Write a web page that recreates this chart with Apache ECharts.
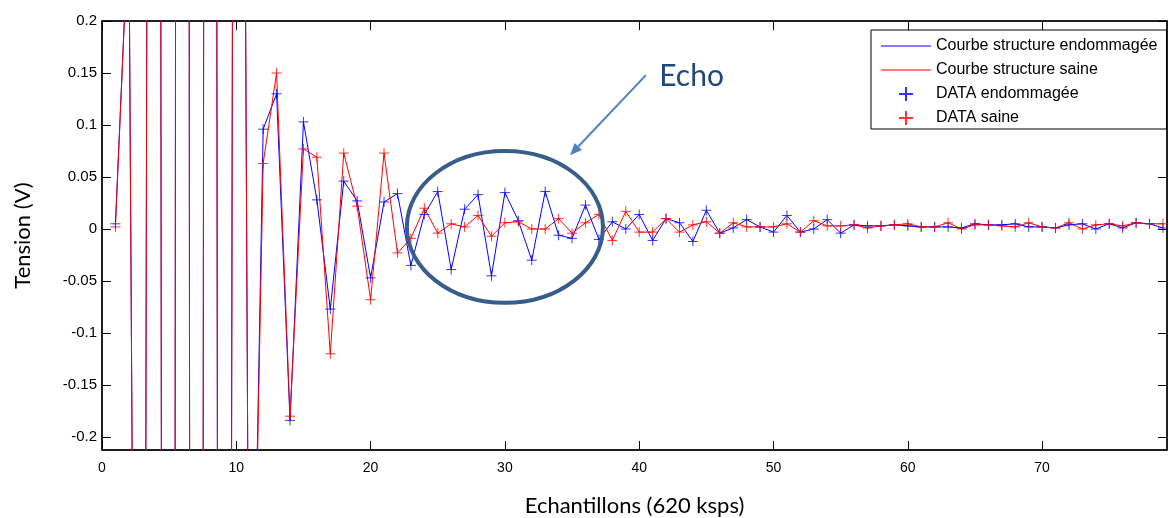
<!DOCTYPE html>
<html>
<head>
<meta charset="utf-8">
<script src="https://cdn.jsdelivr.net/npm/echarts@6/dist/echarts.min.js"></script>
<style>
  html, body { margin: 0; padding: 0; background: #fff; }
  #chart { width: 1169px; height: 518px; }
</style>
</head>
<body>
<div id="chart"></div>
<script>
// sample index (x) and measured tension (V) for both structures
const samples = [1, 2, 3, 4, 5, 6, 7, 8, 9, 10, 11, 12, 13, 14, 15, 16, 17, 18, 19, 20,
  21, 22, 23, 24, 25, 26, 27, 28, 29, 30, 31, 32, 33, 34, 35, 36, 37, 38, 39, 40,
  41, 42, 43, 44, 45, 46, 47, 48, 49, 50, 51, 52, 53, 54, 55, 56, 57, 58, 59, 60,
  61, 62, 63, 64, 65, 66, 67, 68, 69, 70, 71, 72, 73, 74, 75, 76, 77, 78, 79];

const damaged = [0.005, 0.30, -1.81, 4.21, -6.3, 7.37, -7.15, 5.8, -4.35, 2.04,
  -0.61, 0.096, 0.130, -0.184, 0.103, 0.028, -0.077, 0.046, 0.027, -0.047,
  0.026, 0.034, -0.035, 0.014, 0.036, -0.039, 0.019, 0.033, -0.045, 0.035,
  0.008, -0.030, 0.036, -0.006, -0.009, 0.023, -0.010, 0.007, 0.000, 0.014,
  -0.011, 0.010, 0.006, -0.012, 0.018, -0.004, 0.001, 0.009, 0.002, -0.003,
  0.013, -0.003, 0.000, 0.009, -0.004, 0.004, 0.003, 0.003, 0.004, 0.003,
  0.002, 0.002, 0.002, 0.001, 0.005, 0.004, 0.004, 0.005, 0.002, 0.002,
  0.001, 0.004, 0.005, 0.000, 0.005, 0.001, 0.006, 0.005, 0.001];

const healthy = [0.002, 0.30, -1.81, 4.21, -6.3, 7.37, -7.15, 5.8, -4.35, 2.04,
  -0.61, 0.063, 0.150, -0.180, 0.077, 0.069, -0.120, 0.073, 0.022, -0.068,
  0.073, -0.023, -0.009, 0.020, -0.004, 0.005, 0.002, 0.013, -0.007, 0.006,
  0.007, 0.000, 0.000, 0.010, -0.004, 0.006, 0.014, -0.011, 0.017, -0.003,
  -0.003, 0.010, -0.003, 0.004, 0.007, -0.004, 0.006, 0.002, 0.002, 0.002,
  0.005, -0.003, 0.008, 0.003, 0.003, 0.004, 0.001, 0.003, 0.004, 0.005,
  0.002, 0.002, 0.006, 0.000, 0.004, 0.004, 0.003, 0.002, 0.006, 0.002,
  0.001, 0.006, 0.000, 0.004, 0.005, 0.003, 0.006, 0.005, 0.005];

const xTicks = [0, 10, 20, 30, 40, 50, 60, 70];
const yTicks = [-0.2, -0.15, -0.1, -0.05, 0, 0.05, 0.1, 0.15, 0.2];
const names = ['Courbe structure endommagée', 'Courbe structure saine', 'DATA endommagée', 'DATA saine'];

const BLUE = '#0000ff';
const RED = '#ff0000';
const PLUS = 'path://M5,0L5,10M0,5L10,5';
const BAR = 'path://M0,0H50V1H0Z';
const tickFont = 'Liberation Sans';
const X_MAX = 79.3;
const Y_MIN = -0.2125, Y_MAX = 0.2;

const chart = echarts.init(document.getElementById('chart'));

const pairs = (ys) => samples.map((x, i) => [x, ys[i]]);

const lineSt = { onZero: false, lineStyle: { color: '#000', width: 1.5 } };
const tickSt = { show: true, inside: true, length: 9, lineStyle: { color: '#000' } };

chart.setOption({
  animation: false,
  grid: {
    left: 102, right: 2, top: 21, bottom: 68, outerBoundsMode: 'none',
    show: true, borderColor: '#000', borderWidth: 1
  },
  xAxis: [
    {
      type: 'value', min: 0, max: X_MAX, splitNumber: 8, position: 'bottom',
      splitLine: { show: false }, axisLine: lineSt, axisTick: tickSt,
      axisLabel: { color: '#000', fontSize: 14, fontFamily: tickFont, margin: 11, showMaxLabel: false },
      name: 'Echantillons (620 ksps)', nameLocation: 'middle', nameGap: 45,
      nameTextStyle: { fontFamily: 'Lato', fontSize: 22, color: '#000' }
    },
    {
      type: 'value', min: 0, max: X_MAX, position: 'top',
      splitLine: { show: false }, axisLine: lineSt, axisLabel: { show: false },
      axisTick: Object.assign({ customValues: xTicks }, tickSt)
    }
  ],
  yAxis: [
    {
      type: 'value', min: Y_MIN, max: Y_MAX, splitNumber: 8, position: 'left',
      splitLine: { show: false }, axisLine: lineSt, axisTick: tickSt,
      axisLabel: { color: '#000', fontSize: 15, fontFamily: tickFont, margin: 5, showMinLabel: false },
      name: 'Tension (V)', nameLocation: 'middle', nameGap: 68,
      nameTextStyle: { fontFamily: 'Lato', fontSize: 22, color: '#000' }
    },
    {
      type: 'value', min: Y_MIN, max: Y_MAX, position: 'right',
      splitLine: { show: false }, axisLine: lineSt, axisLabel: { show: false },
      axisTick: Object.assign({ customValues: yTicks }, tickSt)
    }
  ],
  legend: {
    orient: 'vertical', left: 871, top: 30,
    itemWidth: 50, itemHeight: 14, itemGap: 8,
    padding: [8, 9, 3, 10],
    borderColor: '#000', borderWidth: 1, backgroundColor: '#fff',
    textStyle: { fontFamily: tickFont, fontSize: 16, color: '#000' },
    data: [
      { name: names[0], icon: BAR },
      { name: names[1], icon: BAR },
      { name: names[2] },
      { name: names[3] }
    ]
  },
  series: [
    { name: names[0], type: 'line', data: pairs(damaged), symbol: 'none', color: BLUE,
      lineStyle: { color: BLUE, width: 1 }, z: 2 },
    { name: names[1], type: 'line', data: pairs(healthy), symbol: 'none', color: RED,
      lineStyle: { color: RED, width: 1 }, z: 3 },
    { name: names[2], type: 'scatter', data: pairs(damaged), symbol: PLUS, symbolSize: 10, color: BLUE,
      itemStyle: { color: 'transparent', borderColor: BLUE, borderWidth: 1 }, z: 4 },
    { name: names[3], type: 'scatter', data: pairs(healthy), symbol: PLUS, symbolSize: 10, color: RED,
      itemStyle: { color: 'transparent', borderColor: RED, borderWidth: 1 }, z: 5 }
  ]
});

// "Echo" annotation, placed in data coordinates
const px = (x, y) => chart.convertToPixel({ xAxisIndex: 0, yAxisIndex: 0 }, [x, y]);
const c = px(30, 0.002);
const edge = px(30 + 7.3, 0.002 + 0.073);
const a0 = px(40.5, 0.148);
const a1 = px(34.85, 0.071);
const txt = px(43.9, 0.147);
const ang = Math.atan2(a1[1] - a0[1], a1[0] - a0[0]);
const hl = 12, hw = 5;
const back = [a1[0] - hl * Math.cos(ang), a1[1] - hl * Math.sin(ang)];
const head = [
  a1,
  [back[0] + hw * Math.sin(ang), back[1] - hw * Math.cos(ang)],
  [back[0] - hw * Math.sin(ang), back[1] + hw * Math.cos(ang)]
];

chart.setOption({
  graphic: [
    { type: 'ellipse', z: 100, shape: { cx: c[0], cy: c[1], rx: edge[0] - c[0], ry: c[1] - edge[1] },
      style: { fill: 'none', stroke: '#385D8A', lineWidth: 4 } },
    { type: 'line', z: 100, shape: { x1: a0[0], y1: a0[1], x2: back[0], y2: back[1] },
      style: { stroke: '#4F81BD', lineWidth: 2 } },
    { type: 'polygon', z: 100, shape: { points: head }, style: { fill: '#4F81BD' } },
    { type: 'text', z: 100, x: txt[0], y: txt[1],
      style: { text: 'Echo', fill: '#1F497D', font: '30px Lato', align: 'center', verticalAlign: 'middle' } }
  ]
});
</script>
</body>
</html>
